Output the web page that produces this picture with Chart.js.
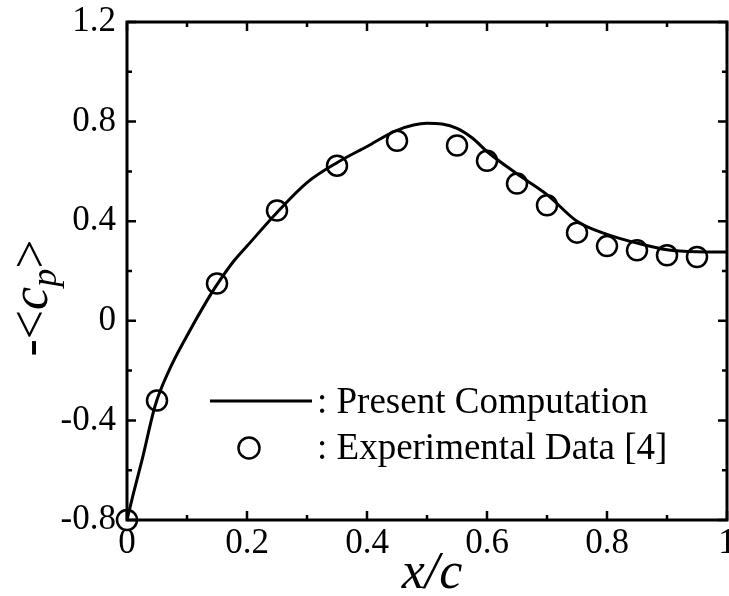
<!DOCTYPE html>
<html><head><meta charset="utf-8">
<script src="https://cdn.jsdelivr.net/npm/chart.js@4.4.1/dist/chart.umd.min.js"></script>
<style>html,body{margin:0;padding:0;background:#fff;overflow:hidden}#wrap{width:729px;height:596px}</style>
</head><body><div id="wrap"><canvas id="c" width="729" height="596"></canvas></div>
<script>
const curveX = [0, 0.01, 0.025, 0.047, 0.07, 0.1, 0.133, 0.15, 0.178, 0.2, 0.25, 0.3, 0.35, 0.4, 0.45, 0.5, 0.525, 0.55, 0.575, 0.6, 0.65, 0.7, 0.75, 0.8, 0.85, 0.9, 0.95, 1.0];
const curveY = [-0.8, -0.70, -0.56, -0.34, -0.2, -0.06, 0.08, 0.145, 0.24, 0.30, 0.435, 0.555, 0.635, 0.70, 0.765, 0.793, 0.79, 0.773, 0.735, 0.68, 0.59, 0.507, 0.40, 0.347, 0.312, 0.285, 0.277, 0.276];
const expX = [0, 0.05, 0.15, 0.25, 0.35, 0.45, 0.55, 0.6, 0.65, 0.7, 0.75, 0.8, 0.85, 0.9, 0.95];
const expY = [-0.8, -0.32, 0.15, 0.443, 0.623, 0.723, 0.704, 0.643, 0.551, 0.464, 0.354, 0.300, 0.283, 0.263, 0.256];
const xTicks = [0, 0.2, 0.4, 0.6, 0.8, 1];
const xTickLabels = ['0', '0.2', '0.4', '0.6', '0.8', '1'];
const xMinor = [0.1, 0.3, 0.5, 0.7, 0.9];
const yTicks = [-0.8, -0.4, 0, 0.4, 0.8, 1.2];
const yTickLabels = ['-0.8', '-0.4', '0', '0.4', '0.8', '1.2'];
const yMinor = [-0.6, -0.2, 0.2, 0.6, 1.0];
const legendLabels = [': Present Computation', ': Experimental Data [4]'];

const SERIF = '"Liberation Serif", "Times New Roman", serif';

const framePlugin = {
  id: 'frame',
  afterDatasetsDraw(chart) {
    const {ctx, chartArea: a, scales: {x, y}} = chart;
    ctx.save();
    ctx.strokeStyle = '#000';
    ctx.lineWidth = 3;
    ctx.strokeRect(a.left, a.top, a.right - a.left, a.bottom - a.top);
    ctx.lineWidth = 2.5;
    const major = 9, minor = 5;
    const tickX = (v, len) => {
      const px = x.getPixelForValue(v);
      ctx.beginPath();
      ctx.moveTo(px, a.bottom); ctx.lineTo(px, a.bottom - len);
      ctx.moveTo(px, a.top); ctx.lineTo(px, a.top + len);
      ctx.stroke();
    };
    const tickY = (v, len) => {
      const py = y.getPixelForValue(v);
      ctx.beginPath();
      ctx.moveTo(a.left, py); ctx.lineTo(a.left + len, py);
      ctx.moveTo(a.right, py); ctx.lineTo(a.right - len, py);
      ctx.stroke();
    };
    xTicks.forEach(v => tickX(v, major));
    xMinor.forEach(v => tickX(v, minor));
    yTicks.forEach(v => tickY(v, major));
    yMinor.forEach(v => tickY(v, minor));

    ctx.fillStyle = '#000';
    // x tick labels, placed by the x scale
    ctx.font = '35px ' + SERIF;
    ctx.textAlign = 'center';
    ctx.textBaseline = 'alphabetic';
    xTicks.forEach((v, i) => ctx.fillText(xTickLabels[i], x.getPixelForValue(v), 553));

    // axis titles
    ctx.font = 'italic 52px ' + SERIF;
    ctx.fillText('x/c', 432, 588);

    // y title: -<c_p>
    ctx.save();
    ctx.translate(47, 298);
    ctx.rotate(-Math.PI / 2);
    const big = '52px ' + SERIF, bigI = 'italic 52px ' + SERIF, sub = 'italic 36px ' + SERIF;
    const parts = [['-<', big, 0], ['c', bigI, 0], ['p', sub, 9], ['>', big, 0]];
    let total = 0;
    parts.forEach(p => { ctx.font = p[1]; total += ctx.measureText(p[0]).width; });
    let cx = -total / 2;
    ctx.textAlign = 'left';
    parts.forEach(p => { ctx.font = p[1]; ctx.fillText(p[0], cx, p[2]); cx += ctx.measureText(p[0]).width; });
    ctx.restore();

    // legend
    ctx.font = '37px ' + SERIF;
    ctx.textAlign = 'left';
    ctx.lineWidth = 3;
    ctx.beginPath(); ctx.moveTo(210, 401); ctx.lineTo(312, 401); ctx.stroke();
    ctx.fillText(legendLabels[0], 317, 413);
    ctx.lineWidth = 2.5;
    ctx.beginPath(); ctx.arc(249, 448, 10.5, 0, Math.PI * 2); ctx.stroke();
    ctx.fillText(legendLabels[1], 317, 459);
    ctx.restore();
  }
};

new Chart(document.getElementById('c'), {
  type: 'scatter',
  data: {
    datasets: [
      {
        label: 'Present Computation',
        data: curveX.map((v, i) => ({x: v, y: curveY[i]})),
        showLine: true,
        borderColor: '#000',
        borderWidth: 3,
        pointRadius: 0,
        cubicInterpolationMode: 'monotone',
        fill: false
      },
      {
        label: 'Experimental Data [4]',
        data: expX.map((v, i) => ({x: v, y: expY[i]})),
        showLine: false,
        borderColor: '#000',
        backgroundColor: 'rgba(0,0,0,0)',
        borderWidth: 2.5,
        pointRadius: 10,
        pointStyle: 'circle',
        clip: false
      }
    ]
  },
  options: {
    responsive: false,
    devicePixelRatio: 1,
    animation: false,
    layout: {autoPadding: false, padding: {left: 0, right: 2, top: 22, bottom: 0}},
    plugins: {legend: {display: false}, tooltip: {enabled: false}},
    scales: {
      x: {
        type: 'linear', min: 0, max: 1,
        afterBuildTicks: s => { s.ticks = xTicks.map(v => ({value: v})); },
        afterFit: s => { s.height = 76; },
        grid: {display: false, drawTicks: false},
        border: {display: false},
        ticks: {display: false}
      },
      y: {
        type: 'linear', min: -0.8, max: 1.2,
        afterBuildTicks: s => { s.ticks = yTicks.map(v => ({value: v})); },
        afterFit: s => { s.width = 127; s.paddingTop = 0; s.paddingBottom = 0; },
        grid: {display: false, drawTicks: false},
        border: {display: false},
        ticks: {
          callback: (v) => yTickLabels[yTicks.findIndex(t => Math.abs(t - v) < 1e-9)] ?? '',
          color: '#000', font: {family: SERIF, size: 35}, padding: 11, autoSkip: false
        }
      }
    }
  },
  plugins: [framePlugin]
});
</script>
</body></html>
